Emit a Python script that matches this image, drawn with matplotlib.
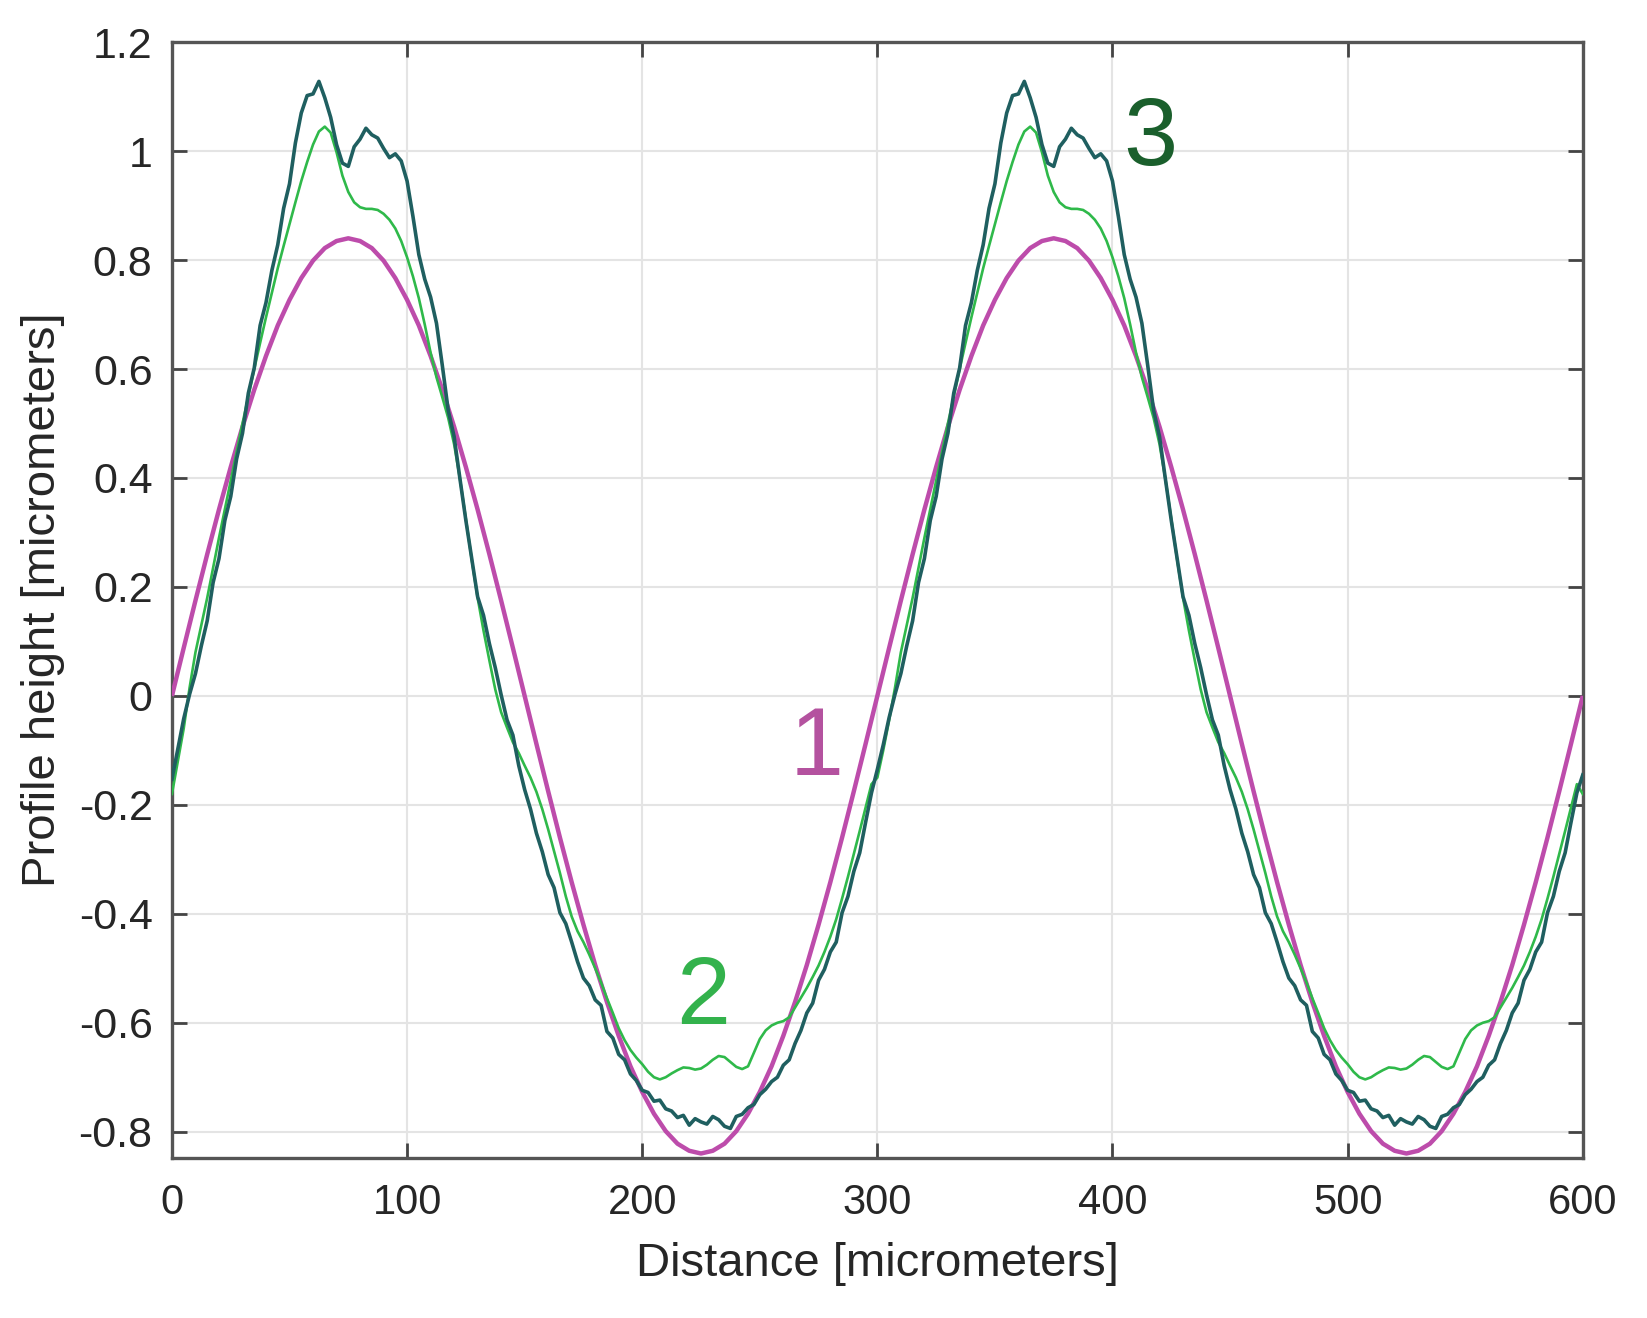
import numpy as np
import matplotlib
matplotlib.use("Agg")
import matplotlib.pyplot as plt

plt.rcParams['font.family'] = ['Liberation Sans', 'DejaVu Sans']

# ---------------- data ----------------
# Curve 1 (magenta), sampled every 5 micrometers, 0..600
x_curve1 = np.arange(0, 600.1, 5.0)
y_curve1 = [
    0.000, 0.088, 0.175, 0.260, 0.342, 0.420, 0.494, 0.562, 0.624, 0.680,
    0.727, 0.767, 0.799, 0.822, 0.835, 0.840, 0.835, 0.822, 0.799, 0.767,
    0.727, 0.680, 0.624, 0.562, 0.494, 0.420, 0.342, 0.260, 0.175, 0.088,
    0.000, -0.088, -0.175, -0.260, -0.342, -0.420, -0.494, -0.562, -0.624, -0.680,
    -0.727, -0.767, -0.799, -0.822, -0.835, -0.840, -0.835, -0.822, -0.799, -0.767,
    -0.727, -0.680, -0.624, -0.562, -0.494, -0.420, -0.342, -0.260, -0.175, -0.088,
    0.000, 0.088, 0.175, 0.260, 0.342, 0.420, 0.494, 0.562, 0.624, 0.680,
    0.727, 0.767, 0.799, 0.822, 0.835, 0.840, 0.835, 0.822, 0.799, 0.767,
    0.727, 0.680, 0.624, 0.562, 0.494, 0.420, 0.342, 0.260, 0.175, 0.088,
    0.000, -0.088, -0.175, -0.260, -0.342, -0.420, -0.494, -0.562, -0.624, -0.680,
    -0.727, -0.767, -0.799, -0.822, -0.835, -0.840, -0.835, -0.822, -0.799, -0.767,
    -0.727, -0.680, -0.624, -0.562, -0.494, -0.420, -0.342, -0.260, -0.175, -0.088,
    0.000,
]

# Curves 2 (green) and 3 (dark teal), sampled every 2.5 micrometers, 0..600
x_fine = np.arange(0, 600.1, 2.5)
y_curve2 = [
    -0.180, -0.120, -0.060, 0.015, 0.080, 0.130, 0.180, 0.235, 0.290, 0.342,
    0.395, 0.448, 0.500, 0.550, 0.600, 0.648, 0.695, 0.740, 0.785, 0.826,
    0.866, 0.906, 0.945, 0.980, 1.012, 1.036, 1.045, 1.034, 0.998, 0.955,
    0.925, 0.906, 0.897, 0.894, 0.894, 0.892, 0.885, 0.874, 0.858, 0.835,
    0.805, 0.770, 0.730, 0.682, 0.630, 0.585, 0.548, 0.510, 0.462, 0.398,
    0.325, 0.250, 0.180, 0.120, 0.065, 0.012, -0.030, -0.058, -0.085, -0.105,
    -0.128, -0.150, -0.176, -0.208, -0.245, -0.285, -0.325, -0.368, -0.405, -0.432,
    -0.452, -0.475, -0.500, -0.526, -0.555, -0.582, -0.610, -0.632, -0.650, -0.664,
    -0.676, -0.690, -0.700, -0.704, -0.700, -0.693, -0.687, -0.682, -0.683, -0.686,
    -0.684, -0.677, -0.668, -0.661, -0.663, -0.672, -0.681, -0.685, -0.680, -0.655,
    -0.630, -0.614, -0.605, -0.600, -0.597, -0.590, -0.572, -0.554, -0.536, -0.516,
    -0.495, -0.470, -0.442, -0.410, -0.372, -0.332, -0.290, -0.248, -0.205, -0.162,
    -0.150,
    -0.100, -0.045, 0.015, 0.080, 0.130, 0.180, 0.235, 0.290, 0.342,
    0.395, 0.448, 0.500, 0.550, 0.600, 0.648, 0.695, 0.740, 0.785, 0.826,
    0.866, 0.906, 0.945, 0.980, 1.012, 1.036, 1.045, 1.034, 0.998, 0.955,
    0.925, 0.906, 0.897, 0.894, 0.894, 0.892, 0.885, 0.874, 0.858, 0.835,
    0.805, 0.770, 0.730, 0.682, 0.630, 0.585, 0.548, 0.510, 0.462, 0.398,
    0.325, 0.250, 0.180, 0.120, 0.065, 0.012, -0.030, -0.058, -0.085, -0.105,
    -0.128, -0.150, -0.176, -0.208, -0.245, -0.285, -0.325, -0.368, -0.405, -0.432,
    -0.452, -0.475, -0.500, -0.526, -0.555, -0.582, -0.610, -0.632, -0.650, -0.664,
    -0.676, -0.690, -0.700, -0.704, -0.700, -0.693, -0.687, -0.682, -0.683, -0.686,
    -0.684, -0.677, -0.668, -0.661, -0.663, -0.672, -0.681, -0.685, -0.680, -0.655,
    -0.630, -0.614, -0.605, -0.600, -0.597, -0.590, -0.572, -0.554, -0.536, -0.516,
    -0.495, -0.470, -0.442, -0.410, -0.372, -0.332, -0.290, -0.248, -0.205, -0.162,
    -0.180,
]
y_curve3 = [
    -0.153, -0.098, -0.042, 0.003, 0.041, 0.092, 0.138, 0.208, 0.252, 0.322,
    0.366, 0.435, 0.482, 0.556, 0.602, 0.680, 0.722, 0.781, 0.828, 0.895,
    0.940, 1.015, 1.070, 1.102, 1.105, 1.128, 1.098, 1.062, 1.012, 0.978,
    0.972, 1.008, 1.022, 1.042, 1.030, 1.024, 1.005, 0.988, 0.995, 0.982,
    0.945, 0.880, 0.810, 0.765, 0.732, 0.684, 0.606, 0.524, 0.476, 0.398,
    0.322, 0.252, 0.182, 0.148, 0.096, 0.052, 0.002, -0.044, -0.072, -0.128,
    -0.172, -0.208, -0.252, -0.286, -0.328, -0.352, -0.398, -0.418, -0.452, -0.488,
    -0.518, -0.532, -0.558, -0.568, -0.616, -0.628, -0.658, -0.668, -0.694, -0.706,
    -0.724, -0.728, -0.744, -0.742, -0.758, -0.762, -0.774, -0.770, -0.788, -0.776,
    -0.782, -0.786, -0.772, -0.778, -0.790, -0.794, -0.772, -0.768, -0.756, -0.750,
    -0.732, -0.722, -0.708, -0.700, -0.678, -0.668, -0.638, -0.614, -0.582, -0.564,
    -0.522, -0.502, -0.470, -0.452, -0.398, -0.368, -0.322, -0.288, -0.232, -0.178,
    -0.135,
    -0.090, -0.040, 0.003, 0.041, 0.092, 0.138, 0.208, 0.252, 0.322,
    0.366, 0.435, 0.482, 0.556, 0.602, 0.680, 0.722, 0.781, 0.828, 0.895,
    0.940, 1.015, 1.070, 1.102, 1.105, 1.128, 1.098, 1.062, 1.012, 0.978,
    0.972, 1.008, 1.022, 1.042, 1.030, 1.024, 1.005, 0.988, 0.995, 0.982,
    0.945, 0.880, 0.810, 0.765, 0.732, 0.684, 0.606, 0.524, 0.476, 0.398,
    0.322, 0.252, 0.182, 0.148, 0.096, 0.052, 0.002, -0.044, -0.072, -0.128,
    -0.172, -0.208, -0.252, -0.286, -0.328, -0.352, -0.398, -0.418, -0.452, -0.488,
    -0.518, -0.532, -0.558, -0.568, -0.616, -0.628, -0.658, -0.668, -0.694, -0.706,
    -0.724, -0.728, -0.744, -0.742, -0.758, -0.762, -0.774, -0.770, -0.788, -0.776,
    -0.782, -0.786, -0.772, -0.778, -0.790, -0.794, -0.772, -0.768, -0.756, -0.750,
    -0.732, -0.722, -0.708, -0.700, -0.678, -0.668, -0.638, -0.614, -0.582, -0.564,
    -0.522, -0.502, -0.470, -0.452, -0.398, -0.368, -0.322, -0.288, -0.232, -0.178,
    -0.145,
]

x_ticks = [0, 100, 200, 300, 400, 500, 600]
x_tick_labels = ["0", "100", "200", "300", "400", "500", "600"]
y_ticks = [-0.8, -0.6, -0.4, -0.2, 0, 0.2, 0.4, 0.6, 0.8, 1.0, 1.2]
y_tick_labels = ["-0.8", "-0.6", "-0.4", "-0.2", "0", "0.2", "0.4", "0.6", "0.8", "1", "1.2"]

curve_labels = ["1", "2", "3"]
curve_label_pos = [(274.0, -0.10), (226.0, -0.556), (416.0, 1.02)]

x_title = "Distance [micrometers]"
y_title = "Profile height [micrometers]"

# ---------------- figure ----------------
c_mag = "#bd4cab"
c_green = "#2fb94a"
c_teal = "#1f5f60"
label_colors = ["#b4529f", "#33b24c", "#1a5f2c"]

fig = plt.figure(figsize=(16.47, 13.18), dpi=100)
ax = fig.add_axes([0.1044, 0.1215, 0.8566, 0.8465])

ax.plot(x_curve1, y_curve1, color=c_mag, lw=3.2, zorder=3, solid_capstyle="butt")
ax.plot(x_fine, y_curve2, color=c_green, lw=1.9, zorder=4)
ax.plot(x_fine, y_curve3, color=c_teal, lw=2.6, zorder=5)

for txt, (tx, ty), col in zip(curve_labels, curve_label_pos, label_colors):
    ax.text(tx, ty, txt, color=col, fontsize=70, ha="center", va="center", zorder=6)

ax.set_xlim(0, 600)
ax.set_ylim(-0.848, 1.2)
ax.set_xticks(x_ticks)
ax.set_xticklabels(x_tick_labels)
ax.set_yticks(y_ticks)
ax.set_yticklabels(y_tick_labels)

ax.grid(True, color="#e4e4e4", lw=1.5, zorder=0)
ax.set_axisbelow(True)
for s in ax.spines.values():
    s.set_color("#555555")
    s.set_linewidth(2.4)

ax.tick_params(axis="both", direction="in", length=11, width=2.0, color="#444444",
               top=True, right=True, labelsize=30, labelcolor="#262626")
ax.tick_params(axis="y", labelsize=31)
ax.tick_params(axis="x", pad=18)
ax.tick_params(axis="y", pad=14)

ax.set_xlabel(x_title, fontsize=34, color="#262626")
ax.set_ylabel(y_title, fontsize=34, color="#262626")
ax.xaxis.label.set_va("center")
ax.yaxis.label.set_va("center")
ax.xaxis.set_label_coords(0.5, -0.095)
ax.yaxis.set_label_coords(-0.0916, 0.5)

fig.savefig("out.png", dpi=100, facecolor="white")
